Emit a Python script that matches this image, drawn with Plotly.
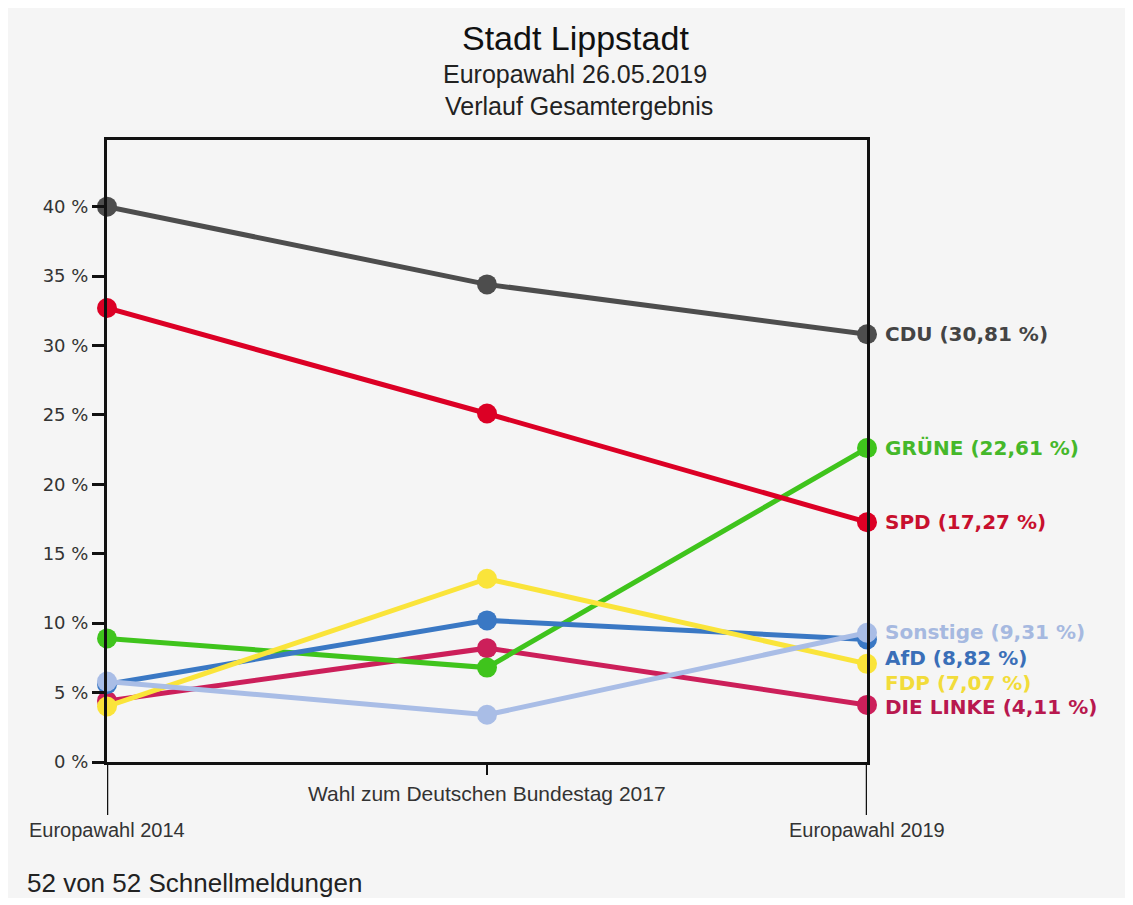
import plotly.graph_objects as go

categories = ["Europawahl 2014", "Wahl zum Deutschen Bundestag 2017", "Europawahl 2019"]

parties = ["DIE LINKE", "GRÜNE", "AfD", "FDP", "Sonstige", "SPD", "CDU"]
linke = [4.4, 8.2, 4.11]
gruene = [8.9, 6.8, 22.61]
afd = [5.6, 10.2, 8.82]
fdp = [4.0, 13.2, 7.07]
sonstige = [5.8, 3.4, 9.31]
spd = [32.7, 25.1, 17.27]
cdu = [40.0, 34.4, 30.81]
series = [linke, gruene, afd, fdp, sonstige, spd, cdu]

line_colors = ["#cc1f5a", "#3fc41c", "#3a78c4", "#fae43a", "#a9bde6", "#dc0025", "#4d4d4d"]
label_colors = ["#b8184f", "#45b82a", "#3a6fb8", "#f2dc3a", "#a6b9e0", "#c8102e", "#444444"]
label_yshift = [-2, 0, -18, -19, 1, 0, 0]

yticks = [0, 5, 10, 15, 20, 25, 30, 35, 40]
ytick_text = [f"{v} %" for v in yticks]

# page body has an 8px margin; figure drawn inside it
OFF = 8
W, H = 1120, 890
ML, MT = 107 - OFF, 140 - OFF
MR = (OFF + W) - 867
MB = (OFF + H) - 762
PH = H - MT - MB
PW = W - ML - MR

fig = go.Figure()
for name, vals, col in zip(parties, series, line_colors):
    fig.add_trace(go.Scatter(
        x=categories, y=vals, mode="lines+markers", name=name,
        line=dict(color=col, width=5),
        marker=dict(color=col, size=20),
        cliponaxis=False, showlegend=False,
    ))

def fmt(v):
    return f"{v:.2f}".replace(".", ",")

annotations = []
for name, vals, col, ys in zip(parties, series, label_colors, label_yshift):
    annotations.append(dict(
        x=categories[-1], y=vals[-1], xref="x", yref="y",
        text=f"{name} ({fmt(vals[-1])} %)", showarrow=False,
        xanchor="left", yanchor="middle", xshift=16, yshift=ys,
        font=dict(family="DejaVu Sans", size=20, color=col, weight="bold"),
    ))

def px_x(p):
    return (p - OFF - ML) / PW

def px_y(p):
    return (OFF + H - MB - p) / PH

title_font = "Liberation Sans"
annotations += [
    dict(x=px_x(575), y=px_y(38), xref="paper", yref="paper", text="Stadt Lippstadt",
         showarrow=False, xanchor="center", yanchor="middle",
         font=dict(family=title_font, size=34, color="#111111")),
    dict(x=px_x(575), y=px_y(74), xref="paper", yref="paper", text="Europawahl 26.05.2019",
         showarrow=False, xanchor="center", yanchor="middle",
         font=dict(family=title_font, size=25, color="#222222")),
    dict(x=px_x(579), y=px_y(106), xref="paper", yref="paper", text="Verlauf Gesamtergebnis",
         showarrow=False, xanchor="center", yanchor="middle",
         font=dict(family=title_font, size=25, color="#222222")),
    dict(x=categories[0], y=px_y(830), xref="x", yref="paper", text=categories[0],
         showarrow=False, xanchor="center", yanchor="middle",
         font=dict(family=title_font, size=20, color="#333333")),
    dict(x=categories[1], y=px_y(793), xref="x", yref="paper", text=categories[1],
         showarrow=False, xanchor="center", yanchor="middle",
         font=dict(family=title_font, size=21, color="#333333")),
    dict(x=categories[2], y=px_y(830), xref="x", yref="paper", text=categories[2],
         showarrow=False, xanchor="center", yanchor="middle",
         font=dict(family=title_font, size=20, color="#333333")),
    dict(x=px_x(25), y=px_y(883), xref="paper", yref="paper", text="52 von 52 Schnellmeldungen",
         showarrow=False, xanchor="left", yanchor="middle",
         font=dict(family=title_font, size=26, color="#222222")),
]

shapes = [
    dict(type="line", xref="x", yref="paper", x0=categories[0], x1=categories[0],
         y0=0, y1=px_y(815), line=dict(color="#111111", width=2.5)),
    dict(type="line", xref="x", yref="paper", x0=categories[2], x1=categories[2],
         y0=0, y1=px_y(815), line=dict(color="#111111", width=2.5)),
]

fig.update_layout(
    width=W, height=H,
    margin=dict(l=ML, r=MR, t=MT, b=MB, pad=0),
    paper_bgcolor="#f5f5f5", plot_bgcolor="#f5f5f5",
    annotations=annotations, shapes=shapes,
    xaxis=dict(type="category", range=[0, 2], showgrid=False, zeroline=False,
               showline=True, mirror=True, linecolor="#111111", linewidth=3,
               tickmode="array", tickvals=[categories[1]], ticktext=[""],
               ticks="outside", ticklen=10, tickwidth=2, tickcolor="#111111",
               showticklabels=False),
    yaxis=dict(range=[0, 44.8], showgrid=False, zeroline=False,
               showline=True, mirror=True, linecolor="#111111", linewidth=3,
               tickmode="array", tickvals=yticks, ticktext=ytick_text,
               ticks="outside", ticklen=12, tickwidth=3, tickcolor="#111111",
               tickfont=dict(family="DejaVu Sans", size=18, color="#333333")),
)

fig.write_html("out.html")
